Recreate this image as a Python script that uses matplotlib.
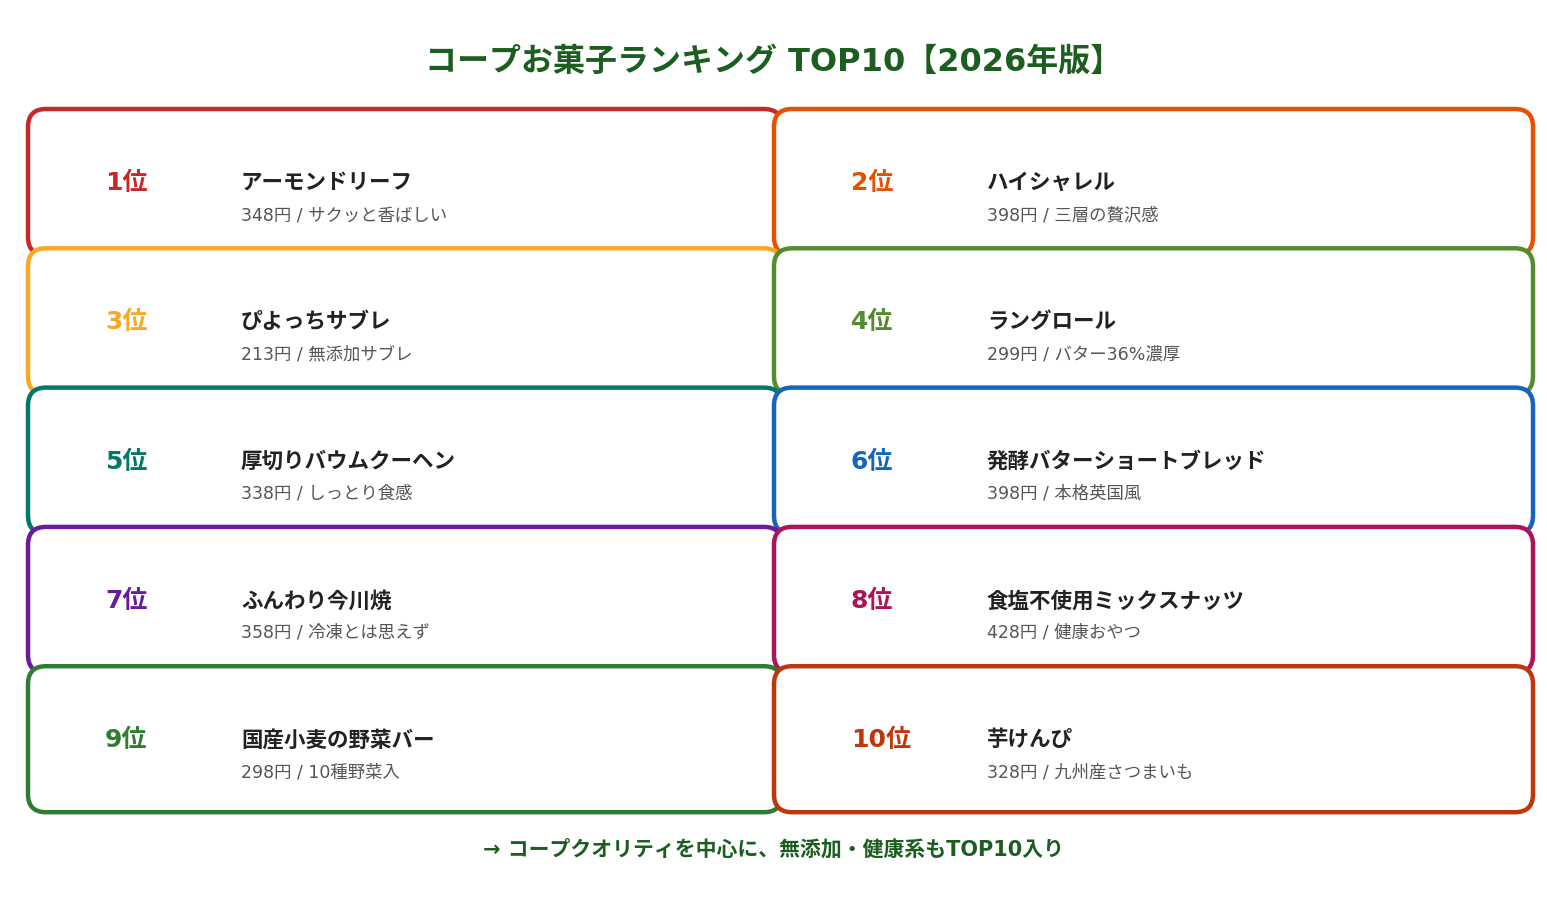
import matplotlib
matplotlib.use("Agg")
import matplotlib.pyplot as plt
from matplotlib.patches import FancyBboxPatch

plt.rcParams['font.family'] = ['DejaVu Sans', 'Noto Sans CJK JP']

ranks = ["1位", "2位", "3位", "4位", "5位", "6位", "7位", "8位", "9位", "10位"]
names = ["アーモンドリーフ", "ハイシャレル", "ぴよっちサブレ", "ラングロール",
         "厚切りバウムクーヘン", "発酵バターショートブレッド", "ふんわり今川焼",
         "食塩不使用ミックスナッツ", "国産小麦の野菜バー", "芋けんぴ"]
details = ["348円 / サクッと香ばしい", "398円 / 三層の贅沢感", "213円 / 無添加サブレ",
           "299円 / バター36%濃厚", "338円 / しっとり食感", "398円 / 本格英国風",
           "358円 / 冷凍とは思えず", "428円 / 健康おやつ", "298円 / 10種野菜入",
           "328円 / 九州産さつまいも"]
colors = ["#c62828", "#e65100", "#f9a825", "#558b2f", "#00796b",
          "#1565c0", "#6a1b9a", "#ad1457", "#2e7d32", "#bf360c"]

W, H = 1547, 897
fig = plt.figure(figsize=(W / 100, H / 100), dpi=100)
ax = fig.add_axes([0, 0, 1, 1])
ax.set_xlim(0, W)
ax.set_ylim(H, 0)
ax.axis('off')

green = "#1b5e20"
ax.text(W / 2, 62, "コープお菓子ランキング TOP10【2026年版】", ha='center', va='center',
        fontsize=23, fontweight='bold', color=green)

col_x = [28, 774]
col_w = [754, 759]
top = 109
pitch = 139.3
bh = 146

for i in range(len(ranks)):
    c = i % 2
    r = i // 2
    x0 = col_x[c]
    y0 = top + r * pitch
    box = FancyBboxPatch((x0 + 18, y0 + 18), col_w[c] - 36, bh - 36,
                         boxstyle="round,pad=18", fc="white", ec=colors[i], lw=3.2,
                         zorder=2 + i)
    ax.add_patch(box)
    ax.text(x0 + 77, y0 + 74, ranks[i], ha='left', va='center', fontsize=18,
            fontweight='bold', color=colors[i], zorder=20)
    ax.text(x0 + 213, y0 + 74, names[i], ha='left', va='center', fontsize=15.5,
            fontweight='bold', color="#222222", zorder=20)
    ax.text(x0 + 213, y0 + 106, details[i], ha='left', va='center', fontsize=12.5,
            color="#555555", zorder=20)

ax.text(W / 2, 849, "→ コープクオリティを中心に、無添加・健康系もTOP10入り", ha='center',
        va='center', fontsize=15, fontweight='bold', color=green)

fig.savefig("out.png", dpi=100, facecolor="white")
